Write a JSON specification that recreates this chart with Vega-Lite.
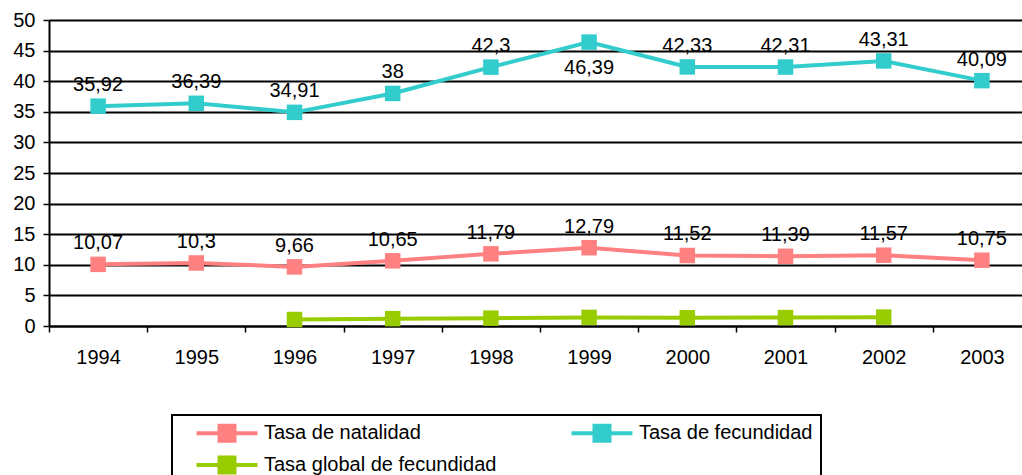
{
  "$schema": "https://vega.github.io/schema/vega-lite/v6.json",
  "width": 973,
  "height": 306,
  "autosize": {"type": "none"},
  "padding": {"left": 49, "top": 20, "right": 0, "bottom": 149},
  "config": {
    "font": "Liberation Sans",
    "view": {"stroke": null},
    "locale": {"number": {"decimal": ",", "thousands": ".", "grouping": [3], "currency": ["", ""]}}
  },
  "data": {
    "values": [
      {"year": "1994", "series": "Tasa de natalidad", "value": 10.07},
      {"year": "1995", "series": "Tasa de natalidad", "value": 10.3},
      {"year": "1996", "series": "Tasa de natalidad", "value": 9.66},
      {"year": "1997", "series": "Tasa de natalidad", "value": 10.65},
      {"year": "1998", "series": "Tasa de natalidad", "value": 11.79},
      {"year": "1999", "series": "Tasa de natalidad", "value": 12.79},
      {"year": "2000", "series": "Tasa de natalidad", "value": 11.52},
      {"year": "2001", "series": "Tasa de natalidad", "value": 11.39},
      {"year": "2002", "series": "Tasa de natalidad", "value": 11.57},
      {"year": "2003", "series": "Tasa de natalidad", "value": 10.75},
      {"year": "1994", "series": "Tasa de fecundidad", "value": 35.92},
      {"year": "1995", "series": "Tasa de fecundidad", "value": 36.39},
      {"year": "1996", "series": "Tasa de fecundidad", "value": 34.91},
      {"year": "1997", "series": "Tasa de fecundidad", "value": 38},
      {"year": "1998", "series": "Tasa de fecundidad", "value": 42.3},
      {"year": "1999", "series": "Tasa de fecundidad", "value": 46.39},
      {"year": "2000", "series": "Tasa de fecundidad", "value": 42.33},
      {"year": "2001", "series": "Tasa de fecundidad", "value": 42.31},
      {"year": "2002", "series": "Tasa de fecundidad", "value": 43.31},
      {"year": "2003", "series": "Tasa de fecundidad", "value": 40.09},
      {"year": "1996", "series": "Tasa global de fecundidad", "value": 1.06},
      {"year": "1997", "series": "Tasa global de fecundidad", "value": 1.2},
      {"year": "1998", "series": "Tasa global de fecundidad", "value": 1.28},
      {"year": "1999", "series": "Tasa global de fecundidad", "value": 1.4},
      {"year": "2000", "series": "Tasa global de fecundidad", "value": 1.35},
      {"year": "2001", "series": "Tasa global de fecundidad", "value": 1.38},
      {"year": "2002", "series": "Tasa global de fecundidad", "value": 1.45}
    ]
  },
  "encoding": {
    "x": {
      "field": "year",
      "type": "ordinal",
      "scale": {"type": "band", "paddingInner": 0, "paddingOuter": 0, "range": [0, 982]},
      "axis": {
        "title": null,
        "tickBand": "extent",
        "grid": false,
        "domainColor": "black",
        "domainWidth": 2,
        "tickColor": "black",
        "tickWidth": 1.5,
        "tickSize": 6,
        "labelAngle": 0,
        "labelFontSize": 20,
        "labelColor": "black",
        "labelPadding": 15
      }
    },
    "y": {
      "field": "value",
      "type": "quantitative",
      "scale": {"domain": [0, 50], "nice": false},
      "axis": {
        "title": null,
        "values": [0, 5, 10, 15, 20, 25, 30, 35, 40, 45, 50],
        "grid": true,
        "gridColor": "black",
        "gridWidth": 2,
        "gridOpacity": 1,
        "domainColor": "black",
        "domainWidth": 2,
        "tickColor": "black",
        "tickWidth": 1.5,
        "tickSize": 6,
        "labelFontSize": 20,
        "labelColor": "black",
        "labelPadding": 8
      }
    },
    "color": {
      "field": "series",
      "type": "nominal",
      "scale": {
        "domain": ["Tasa de natalidad", "Tasa de fecundidad", "Tasa global de fecundidad"],
        "range": ["#FF8080", "#33CCCC", "#99CC00"]
      },
      "legend": {
        "title": null,
        "orient": "none",
        "direction": "horizontal",
        "legendX": 123,
        "legendY": 395,
        "columns": 2,
        "columnPadding": 58,
        "rowPadding": 0,
        "padding": 8,
        "strokeColor": "black",
        "symbolType": "M-4.35,0H4.35M-1.07,-1.07H1.07V1.07H-1.07Z",
        "symbolSize": 196,
        "symbolStrokeWidth": 4,
        "symbolOffset": 37,
        "labelOffset": 27,
        "labelFontSize": 20,
        "labelColor": "black",
        "labelLimit": 400,
        "encode": {
          "symbols": {"update": {"fill": {"scale": "color", "field": "value"}, "fillOpacity": {"value": 1}}},
          "legend": {"update": {"strokeWidth": {"value": 2}}}
        }
      }
    }
  },
  "layer": [
    {
      "mark": {"type": "line", "strokeWidth": 4, "point": {"shape": "square", "size": 240, "filled": true, "opacity": 1}}
    },
    {
      "transform": [{"filter": "datum.series != 'Tasa global de fecundidad' && !(datum.series == 'Tasa de fecundidad' && datum.year == '1999')"}],
      "mark": {"type": "text", "dy": -21, "fontSize": 20, "color": "black"},
      "encoding": {
        "text": {"field": "value", "type": "quantitative", "format": "~g"},
        "color": {"value": "black"}
      }
    },
    {
      "transform": [{"filter": "datum.series == 'Tasa de fecundidad' && datum.year == '1999'"}],
      "mark": {"type": "text", "dy": 26, "fontSize": 20, "color": "black"},
      "encoding": {
        "text": {"field": "value", "type": "quantitative", "format": "~g"},
        "color": {"value": "black"}
      }
    }
  ]
}
